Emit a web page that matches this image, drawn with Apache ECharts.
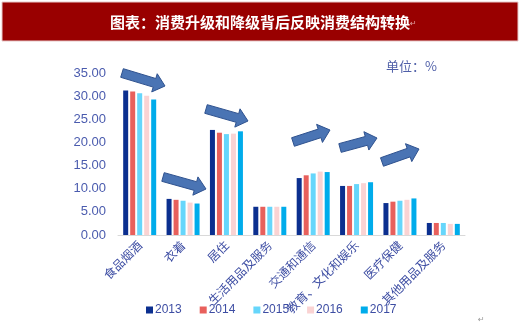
<!DOCTYPE html>
<html>
<head>
<meta charset="utf-8">
<script src="https://cdn.jsdelivr.net/npm/echarts@6/dist/echarts.min.js"></script>
<style>
html,body{margin:0;padding:0;background:#fff;}
#c{width:520px;height:326px;}
</style>
</head>
<body>
<div id="c"></div>
<script>
// 居民人均消费支出构成（%）
const categories = ['食品烟酒','衣着','居住','生活用品及服务','交通和通信','教育、文化和娱乐','医疗保健','其他用品及服务'];
const years = ['2013','2014','2015','2016','2017'];
const v2013 = [31.2, 7.8, 22.7, 6.1, 12.3, 10.6, 6.9, 2.6];
const v2014 = [31.0, 7.6, 22.1, 6.1, 12.9, 10.6, 7.2, 2.6];
const v2015 = [30.6, 7.4, 21.8, 6.1, 13.3, 11.0, 7.4, 2.6];
const v2016 = [30.1, 7.0, 21.9, 6.1, 13.7, 11.2, 7.6, 2.4];
const v2017 = [29.3, 6.8, 22.4, 6.1, 13.6, 11.4, 7.9, 2.4];
const seriesValues = [v2013, v2014, v2015, v2016, v2017];
const colors = ['#0B2F8F', '#E8605C', '#66D6FB', '#FAD3D3', '#00ACEB'];

const labelColor = '#3D4DA3';
const chart = echarts.init(document.getElementById('c'), null, {renderer: 'canvas'});

// block arrow polygon from tail to tip
function arrowPoints(tail, tip, bodyW, headW, headL) {
  const dx = tip[0] - tail[0], dy = tip[1] - tail[1];
  const len = Math.sqrt(dx * dx + dy * dy);
  const ux = dx / len, uy = dy / len, nx = -uy, ny = ux;
  const bx = tip[0] - ux * headL, by = tip[1] - uy * headL;
  const p = (x, y, w) => [x + nx * w, y + ny * w];
  return [
    p(tail[0], tail[1], bodyW / 2),
    p(bx, by, bodyW / 2),
    p(bx, by, headW / 2),
    tip,
    p(bx, by, -headW / 2),
    p(bx, by, -bodyW / 2),
    p(tail[0], tail[1], -bodyW / 2)
  ];
}
const arrows = [
  [[122, 73], [165, 86]],
  [[163, 177], [206, 189]],
  [[206, 109], [248, 121]],
  [[293, 142], [330, 130]],
  [[340, 148], [377, 138]],
  [[382, 162], [419, 149]]
];

chart.setOption({
  animation: false,
  backgroundColor: '#fff',
  color: colors,
  grid: {left: 118, right: 55, top: 73, bottom: 91},
  legend: {
    bottom: 5, left: 141,
    itemWidth: 7, itemHeight: 7, itemGap: 18,
    icon: 'rect',
    textStyle: {color: labelColor, fontSize: 12, fontFamily: 'Liberation Sans, Arial', padding: [0, 0, 0, -3]},
    data: years
  },
  xAxis: {
    type: 'category',
    data: categories,
    axisLine: {lineStyle: {color: '#D9D9D9'}},
    axisTick: {show: false},
    axisLabel: {
      rotate: 45, interval: 0, margin: 8,
      color: labelColor, fontSize: 12,
      fontFamily: 'Noto Sans CJK SC'
    }
  },
  yAxis: {
    type: 'value', min: 0, max: 35, interval: 5,
    axisLine: {show: false}, axisTick: {show: false},
    splitLine: {show: false},
    axisLabel: {
      color: '#4A5BAE', fontSize: 13, margin: 12,
      fontFamily: 'Liberation Sans, Arial',
      formatter: v => v.toFixed(2)
    }
  },
  series: years.map((y, i) => ({
    name: y,
    type: 'bar',
    data: seriesValues[i],
    barWidth: 5,
    barGap: '40%',
    itemStyle: {color: colors[i]}
  })),
  graphic: [
    {type: 'rect', shape: {x: 2, y: 2, width: 516, height: 39},
     style: {fill: '#990000', stroke: '#E8C8C8', lineWidth: 1}, z: 10},
    {type: 'text', x: 260, y: 22, z: 11,
     style: {text: '图表：消费升级和降级背后反映消费结构转换', fill: '#fff',
       font: 'bold 15px "Noto Sans CJK SC"', textAlign: 'center', textVerticalAlign: 'middle'}},
    {type: 'text', x: 410, y: 24, z: 11,
     style: {text: '↵', fill: '#E0A0A0', font: '8px "DejaVu Sans"', textVerticalAlign: 'middle'}},
    {type: 'text', x: 386, y: 66, z: 11,
     style: {text: '单位：%', fill: '#4F5FA8', font: '13px "Noto Sans CJK SC"', textVerticalAlign: 'middle'}},
    {type: 'text', x: 478, y: 320, z: 11,
     style: {text: '↵', fill: '#999', font: '8px "DejaVu Sans"', textVerticalAlign: 'middle'}}
  ].concat(arrows.map(a => ({
    type: 'polygon', z: 12,
    shape: {points: arrowPoints(a[0], a[1], 9, 19, 11)},
    style: {fill: '#4A74B4', stroke: '#2F528F', lineWidth: 1}
  })))
});
</script>
</body>
</html>
